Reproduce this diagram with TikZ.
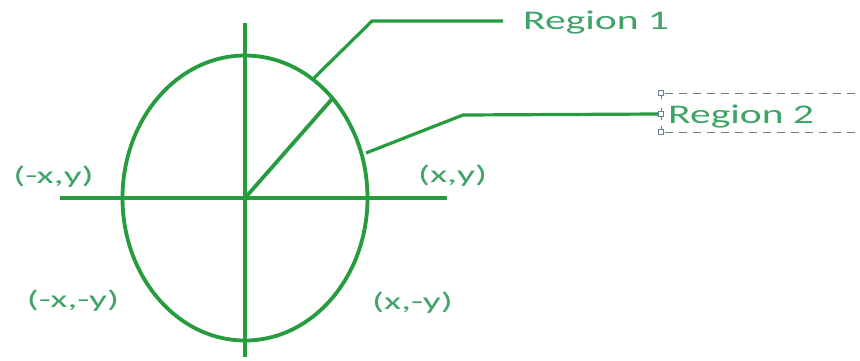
\documentclass[tikz,border=0pt]{standalone}
\usepackage{fontspec}
\setmainfont{Carlito}
\definecolor{gline}{RGB}{38,156,62}
\definecolor{gtext}{RGB}{64,164,104}
\definecolor{hgrey}{RGB}{110,125,150}
\newcommand{\cl}[1]{\scalebox{1.65}[1]{#1}}
\newcommand{\rl}[1]{\scalebox{1.54}[1]{#1}}
\begin{document}
\begin{tikzpicture}[x=1pt,y=-1pt,
  gl/.style={draw=gline,line width=3.8pt},
  lead/.style={draw=gline,line width=3.2pt},
  lbl/.style={text=gtext,font=\fontsize{24}{27}\selectfont,inner sep=0pt},
  rlbl/.style={text=gtext,font=\fontsize{27}{30}\selectfont,inner sep=0pt,anchor=base west},
  handle/.style={draw=hgrey,fill=white,line width=0.8pt,minimum size=5pt,inner sep=0pt}]
\useasboundingbox (0,0) rectangle (860,360);
\fill[white] (0,0) rectangle (860,360);
% axes
\coordinate (O) at (245,198);
\coordinate (vt) at (245,23);
\coordinate (vb) at (245,357);
\coordinate (hl) at (60,198);
\coordinate (hr) at (447,198);
\draw[gl] (vt) -- (vb);
\draw[gl] (hl) -- (hr);
\draw[gl] (O) ellipse [x radius=122.5, y radius=142.5];
% radius line
\coordinate (P) at (332,99);
\draw[gl] (O) -- (P);
% region 1 leader and label
\coordinate (r1a) at (314,78);
\coordinate (r1b) at (372,21);
\coordinate (r1c) at (503,21);
\draw[lead] (r1a) -- (r1b) -- (r1c);
\node[rlbl] (reg1) at (523,29) {\rl{Region 1}};
% region 2 text box with handles
\draw[hgrey,line width=0.8pt,dash pattern=on 8pt off 6pt] (665,93) -- (860,93);
\draw[hgrey,line width=0.8pt,dash pattern=on 8pt off 6pt] (665,132) -- (860,132);
\draw[hgrey,line width=0.8pt] (661,93) -- (661,99);
\draw[hgrey,line width=0.8pt] (661,108) -- (661,120);
\draw[hgrey,line width=0.8pt] (661,126) -- (661,132);
\node[handle] (h1) at (661,93) {};
\node[handle] (h2) at (661,114) {};
\node[handle] (h3) at (661,132) {};
\coordinate (r2a) at (366,153);
\coordinate (r2b) at (463,115);
\draw[lead] (r2a) -- (r2b) -- (h2.west);
\node[rlbl] (reg2) at (668,123) {\rl{Region 2}};
% coordinate labels
\node[lbl] (q2) at (53.5,177) {\cl{(-x,y)}};
\node[lbl] (q1) at (452.5,176) {\cl{(x,y)}};
\node[lbl] (q3) at (73,301) {\cl{(-x,-y)}};
\node[lbl] (q4) at (412.5,303) {\cl{(x,-y)}};
\end{tikzpicture}
\end{document}
